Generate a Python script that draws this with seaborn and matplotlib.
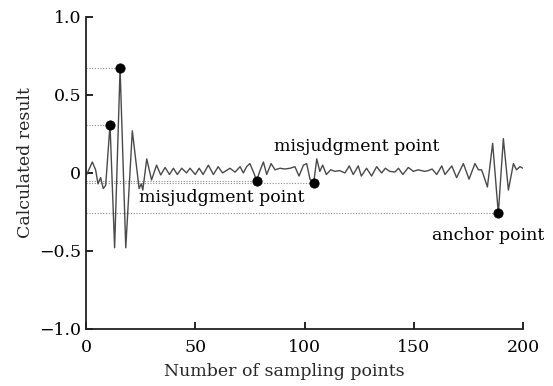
import matplotlib
matplotlib.use("Agg")
import matplotlib.pyplot as plt
import seaborn as sns
import pandas as pd

# waveform
wave_x = [0, 2.9, 4.4, 5.5, 6.7, 7.9, 9, 11, 13.1, 15.6, 18.2, 21.2, 24.3, 25.3, 26, 27.8, 30, 32.3, 34.2,
          36.2, 38.2, 40, 41.8, 43.8, 46, 47.6, 50, 51.8, 53.6, 56, 58.3, 60.5, 62.5, 65.9, 68.2, 70.5,
          72, 73.5, 75, 76.8, 78.1, 79.5, 81.2, 82.7, 84.7, 86.5, 88.8, 91, 93.4, 95.6, 97.5, 99.5, 101,
          102.5, 104.2, 105.6, 107, 108.3, 110, 112, 114, 116, 118.5, 120.5, 122.3, 124.6, 126, 128.4,
          130.7, 133, 135.3, 137, 139, 141.4, 143, 145, 147.5, 149.8, 152, 155, 156.6, 158.4, 160.5,
          162.8, 164.3, 167.4, 169.6, 172.7, 175.3, 178, 179.6, 181, 181.8, 183.7, 186.1, 188.7, 191,
          193.3, 195.6, 197, 198.6, 200]
wave_y = [-0.02, 0.07, 0.02, -0.07, -0.03, -0.10, -0.08, 0.31, -0.48, 0.67, -0.48, 0.27, -0.10, -0.07,
          -0.11, 0.09, -0.045, 0.05, -0.013, 0.035, -0.01, 0.03, -0.01, 0.03, 0.0, 0.03, -0.01, 0.03,
          -0.01, 0.05, -0.01, 0.04, 0.0, 0.03, 0.005, 0.04, 0.0, 0.04, 0.06, 0.0, -0.05, 0.01, 0.07,
          -0.01, 0.06, 0.02, 0.03, 0.025, 0.03, 0.04, -0.02, 0.05, 0.06, -0.04, -0.065, 0.09, 0.01, 0.05,
          -0.01, 0.02, 0.01, 0.015, 0.0, 0.045, -0.01, 0.045, -0.02, 0.03, -0.02, 0.04, 0.0, 0.03, 0.01,
          0.006, 0.03, -0.01, 0.035, 0.01, 0.02, 0.01, 0.015, 0.025, -0.01, 0.045, -0.01, 0.045, -0.03,
          0.06, -0.04, 0.06, 0.02, 0.02, -0.01, -0.09, 0.19, -0.26, 0.22, -0.11, 0.06, 0.02, 0.04, 0.03]

# marked points
mark_x = [11, 15.6, 78.1, 104.2, 188.7]
mark_y = [0.31, 0.67, -0.05, -0.065, -0.26]

labels = ["misjudgment point", "misjudgment point", "anchor point"]
label_x = [62, 124, 184]
label_y = [-0.155, 0.17, -0.40]

x_ticks = [0, 50, 100, 150, 200]
y_ticks = [1.0, 0.5, 0, -0.5, -1.0]
y_tick_labels = ["1.0", "0.5", "0", "\u22120.5", "\u22121.0"]

sns.set_style("ticks")
plt.rcParams["font.family"] = ["DejaVu Serif"]

fig = plt.figure(figsize=(5.53, 3.86), dpi=100)
ax = fig.add_axes([0.1555, 0.148, 0.7903, 0.808])

wave = pd.DataFrame({"x": wave_x, "y": wave_y})
marks = pd.DataFrame({"x": mark_x, "y": mark_y})

for mx, my in zip(mark_x, mark_y):
    ax.plot([0, mx], [my, my], linestyle=(0, (1, 1.5)), color="#8c8c8c", linewidth=0.8, zorder=1)

sns.lineplot(data=wave, x="x", y="y", ax=ax, color="#4a4a4a", linewidth=1.0, zorder=2)
sns.scatterplot(data=marks, x="x", y="y", ax=ax, color="black", s=45, edgecolor="black", zorder=3)

for t, lx, ly in zip(labels, label_x, label_y):
    ax.text(lx, ly, t, ha="center", va="center", fontsize=12.5, color="black")

ax.set_xlim(0, 200)
ax.set_ylim(-1.0, 1.0)
ax.set_xticks(x_ticks)
ax.set_yticks(y_ticks)
ax.set_yticklabels(y_tick_labels)
ax.tick_params(direction="in", length=5, width=1.2, labelsize=12.5, colors="black")
ax.tick_params(axis="x", pad=7)
ax.set_xlabel("Number of sampling points", fontsize=12.5)
ax.set_ylabel("Calculated result", fontsize=12.5)
ax.xaxis.set_label_coords(0.453, -0.108)
ax.yaxis.set_label_coords(-0.12, 0.532)
for s in ["top", "right"]:
    ax.spines[s].set_visible(False)
for s in ["left", "bottom"]:
    ax.spines[s].set_linewidth(1.3)
    ax.spines[s].set_color("#222222")

fig.savefig("out.png", dpi=100)
